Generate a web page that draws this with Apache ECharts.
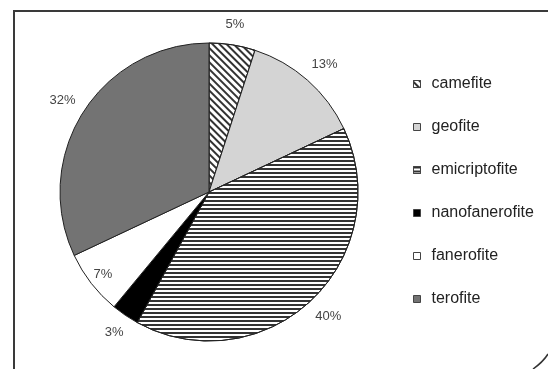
<!DOCTYPE html>
<html>
<head>
<meta charset="utf-8">
<style>
  html, body { margin: 0; padding: 0; background: #fff; }
  #chart { width: 548px; height: 369px; }
</style>
<script src="https://cdn.jsdelivr.net/npm/echarts@6/dist/echarts.min.js"></script>
</head>
<body>
<div id="chart"></div>
<script>
// life-form spectrum (percent of species)
var categories = ['camefite', 'geofite', 'emicriptofite', 'nanofanerofite', 'fanerofite', 'terofite'];
var shares = [5, 13, 40, 3, 7, 32];

// fill for each slice, same order as categories
var fills = ['#ffffff', '#d4d4d4', '#ffffff', '#000000', '#ffffff', '#737373'];
var hatchDiag = {
  symbol: 'rect', symbolSize: 1, color: '#333',
  dashArrayX: [1, 0], dashArrayY: [1.5, 2.5], rotation: Math.PI / 4
};
var hatchHoriz = {
  symbol: 'rect', symbolSize: 1, color: '#333',
  dashArrayX: [1, 0], dashArrayY: [1.5, 2]
};
var decals = [hatchDiag, null, hatchHoriz, null, null, null];
// the small slice label sits inside its slice, like the original
var labelPull = { fanerofite: -14 };

var chart = echarts.init(document.getElementById('chart'));

var pieData = categories.map(function(name, i) {
  var item = {
    name: name,
    value: shares[i],
    itemStyle: { color: fills[i] }
  };
  if (decals[i]) item.itemStyle.decal = decals[i];
  if (labelPull[name] !== undefined) item.labelLine = { length: labelPull[name] };
  return item;
});

chart.setOption({
  animation: false,
  backgroundColor: '#fff',
  graphic: [
    {
      type: 'rect',
      shape: { x: 14, y: 11, width: 560, height: 380 },
      style: { fill: 'none', stroke: '#3a3a3a', lineWidth: 2 }
    },
    {
      // page curl at the bottom right corner
      type: 'bezierCurve',
      shape: { x1: 533, y1: 369, cpx1: 543, cpy1: 362, x2: 548, y2: 354 },
      style: { fill: 'none', stroke: '#333', lineWidth: 1.5 }
    }
  ],
  legend: {
    orient: 'vertical',
    left: 408,
    top: 71,
    icon: 'rect',
    itemWidth: 7,
    itemHeight: 7,
    itemGap: 27,
    selectedMode: false,
    data: categories,
    itemStyle: { borderColor: '#444', borderWidth: 1 },
    textStyle: {
      fontFamily: 'Liberation Sans, Arial, sans-serif',
      fontSize: 16,
      lineHeight: 16,
      color: '#222',
      padding: [0, 0, 0, 6]
    }
  },
  series: [
    {
      type: 'pie',
      center: [209, 192],
      radius: 149,
      startAngle: 90,
      clockwise: true,
      avoidLabelOverlap: false,
      itemStyle: { borderColor: '#222', borderWidth: 1 },
      label: {
        show: true,
        position: 'outside',
        formatter: function(p) { return p.value + '%'; },
        fontFamily: 'Liberation Sans, Arial, sans-serif',
        fontSize: 13,
        color: '#444',
        distanceToLabelLine: -10
      },
      labelLine: { show: false, length: 21, length2: 0 },
      emphasis: { disabled: true },
      data: pieData
    }
  ]
});
</script>
</body>
</html>
